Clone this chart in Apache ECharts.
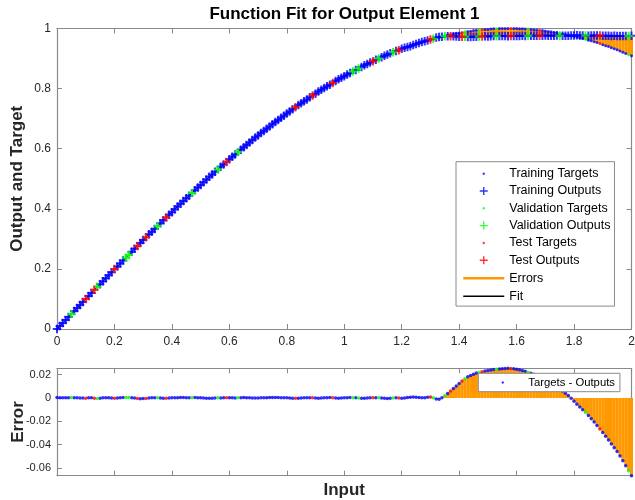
<!DOCTYPE html>
<html>
<head>
<meta charset="utf-8">
<script src="https://cdn.jsdelivr.net/npm/echarts@6/dist/echarts.min.js"></script>
<style>
  html, body { margin: 0; padding: 0; background: #fff; }
  #chart { width: 635px; height: 500px; }
</style>
</head>
<body>
<div id="chart"></div>
<script>
// Inputs 0:0.01:2
const inputs = [
  0.00,0.01,0.02,0.03,0.04,0.05,0.06,0.07,0.08,0.09,
  0.10,0.11,0.12,0.13,0.14,0.15,0.16,0.17,0.18,0.19,
  0.20,0.21,0.22,0.23,0.24,0.25,0.26,0.27,0.28,0.29,
  0.30,0.31,0.32,0.33,0.34,0.35,0.36,0.37,0.38,0.39,
  0.40,0.41,0.42,0.43,0.44,0.45,0.46,0.47,0.48,0.49,
  0.50,0.51,0.52,0.53,0.54,0.55,0.56,0.57,0.58,0.59,
  0.60,0.61,0.62,0.63,0.64,0.65,0.66,0.67,0.68,0.69,
  0.70,0.71,0.72,0.73,0.74,0.75,0.76,0.77,0.78,0.79,
  0.80,0.81,0.82,0.83,0.84,0.85,0.86,0.87,0.88,0.89,
  0.90,0.91,0.92,0.93,0.94,0.95,0.96,0.97,0.98,0.99,
  1.00,1.01,1.02,1.03,1.04,1.05,1.06,1.07,1.08,1.09,
  1.10,1.11,1.12,1.13,1.14,1.15,1.16,1.17,1.18,1.19,
  1.20,1.21,1.22,1.23,1.24,1.25,1.26,1.27,1.28,1.29,
  1.30,1.31,1.32,1.33,1.34,1.35,1.36,1.37,1.38,1.39,
  1.40,1.41,1.42,1.43,1.44,1.45,1.46,1.47,1.48,1.49,
  1.50,1.51,1.52,1.53,1.54,1.55,1.56,1.57,1.58,1.59,
  1.60,1.61,1.62,1.63,1.64,1.65,1.66,1.67,1.68,1.69,
  1.70,1.71,1.72,1.73,1.74,1.75,1.76,1.77,1.78,1.79,
  1.80,1.81,1.82,1.83,1.84,1.85,1.86,1.87,1.88,1.89,
  1.90,1.91,1.92,1.93,1.94,1.95,1.96,1.97,1.98,1.99,
  2.00
];

// Target values
const targets = [
  0.000,0.010,0.020,0.030,0.040,0.050,0.060,0.070,0.080,0.090,
  0.100,0.110,0.120,0.130,0.140,0.149,0.159,0.169,0.179,0.189,
  0.199,0.208,0.218,0.228,0.238,0.247,0.257,0.267,0.276,0.286,
  0.296,0.305,0.315,0.324,0.333,0.343,0.352,0.362,0.371,0.380,
  0.389,0.399,0.408,0.417,0.426,0.435,0.444,0.453,0.462,0.471,
  0.479,0.488,0.497,0.506,0.514,0.523,0.531,0.540,0.548,0.556,
  0.565,0.573,0.581,0.589,0.597,0.605,0.613,0.621,0.629,0.637,
  0.644,0.652,0.659,0.667,0.674,0.682,0.689,0.696,0.703,0.710,
  0.717,0.724,0.731,0.738,0.745,0.751,0.758,0.764,0.771,0.777,
  0.783,0.790,0.796,0.802,0.808,0.813,0.819,0.825,0.831,0.836,
  0.841,0.847,0.852,0.857,0.862,0.867,0.872,0.877,0.882,0.887,
  0.891,0.896,0.900,0.904,0.909,0.913,0.917,0.921,0.925,0.928,
  0.932,0.936,0.939,0.942,0.946,0.949,0.952,0.955,0.958,0.961,
  0.964,0.966,0.969,0.971,0.973,0.976,0.978,0.980,0.982,0.984,
  0.985,0.987,0.989,0.990,0.991,0.993,0.994,0.995,0.996,0.997,
  0.997,0.998,0.999,0.999,1.000,1.000,1.000,1.000,1.000,1.000,
  1.000,0.999,0.999,0.998,0.998,0.997,0.996,0.995,0.994,0.993,
  0.992,0.990,0.989,0.987,0.986,0.984,0.982,0.980,0.978,0.976,
  0.974,0.972,0.969,0.967,0.964,0.961,0.959,0.956,0.953,0.950,
  0.946,0.943,0.940,0.936,0.933,0.929,0.925,0.921,0.917,0.913,
  0.909
];

// Targets - Outputs
const errors = [
  0.0004,0.0003,0.0002,0.0002,0.0003,0.0004,0.0003,0.0001,-0.0001,0.0000,
  -0.0002,0.0001,0.0002,-0.0003,-0.0004,-0.0002,0.0001,0.0003,0.0002,0.0000,
  -0.0003,0.0000,0.0002,0.0004,0.0005,0.0004,0.0002,0.0000,-0.0004,-0.0006,
  -0.0005,-0.0004,-0.0001,0.0001,0.0003,0.0002,0.0000,-0.0002,-0.0003,-0.0001,
  0.0001,0.0002,0.0003,0.0004,0.0004,0.0003,0.0002,0.0003,0.0004,0.0003,
  0.0002,0.0000,-0.0002,-0.0003,-0.0002,0.0000,0.0001,0.0000,0.0002,0.0003,
  0.0003,0.0001,0.0000,0.0001,0.0003,0.0004,0.0003,0.0001,0.0000,-0.0001,
  0.0000,0.0001,0.0002,0.0003,0.0004,0.0004,0.0005,0.0004,0.0003,0.0002,
  0.0001,0.0000,-0.0002,-0.0003,-0.0002,0.0000,0.0002,0.0003,0.0002,0.0001,
  -0.0001,-0.0002,0.0000,0.0001,0.0003,0.0004,0.0002,0.0000,-0.0002,-0.0001,
  0.0001,0.0003,0.0004,0.0003,0.0001,-0.0001,-0.0002,-0.0003,-0.0001,0.0001,
  0.0002,0.0003,0.0002,0.0000,-0.0002,-0.0004,-0.0003,-0.0001,0.0001,0.0000,
  -0.0003,0.0000,0.0004,0.0007,0.0008,0.0007,0.0004,0.0002,0.0003,0.0006,
  0.0008,0.0002,-0.0008,-0.0010,0.0002,0.0020,0.0038,0.0060,0.0082,0.0103,
  0.0124,0.0146,0.0165,0.0181,0.0193,0.0204,0.0213,0.0219,0.0225,0.0230,
  0.0235,0.0239,0.0243,0.0246,0.0249,0.0251,0.0253,0.0254,0.0253,0.0251,
  0.0246,0.0241,0.0235,0.0228,0.0220,0.0212,0.0203,0.0193,0.0182,0.0170,
  0.0157,0.0143,0.0128,0.0112,0.0095,0.0078,0.0060,0.0041,0.0021,-0.0003,
  -0.0028,-0.0053,-0.0078,-0.0101,-0.0125,-0.0150,-0.0177,-0.0205,-0.0235,-0.0265,
  -0.0295,-0.0327,-0.0360,-0.0393,-0.0425,-0.0458,-0.0497,-0.0538,-0.0580,-0.0622,
  -0.0665
];

// Inputs held out for validation and for testing; the rest are training samples
const validationInputs = [0.05,0.14,0.24,0.25,0.35,0.47,0.56,0.63,1.03,1.05,1.12,1.17,1.31,1.35,1.42,1.47,1.53,1.64,1.75,1.84,1.99];
const testInputs = [0.10,0.13,0.20,0.28,0.31,0.38,0.59,0.83,0.89,0.96,1.10,1.19,1.30,1.37,1.41,1.48,1.58,1.68,1.89];

const xTicks = [0, 0.2, 0.4, 0.6, 0.8, 1, 1.2, 1.4, 1.6, 1.8, 2];

// ---- derived per-sample records ----
const outputs = targets.map((t, i) => +(t - errors[i]).toFixed(4));
const inSet = (arr, x) => arr.some(v => Math.abs(v - x) < 1e-9);
const subsetOf = x => inSet(validationInputs, x) ? 'val' : (inSet(testInputs, x) ? 'test' : 'train');
const pick = (kind, valueOf) => inputs
  .map((x, i) => [x, valueOf(i), subsetOf(x)])
  .filter(d => d[2] === kind)
  .map(d => [d[0], d[1]]);

const BLUE = '#0000ff', GREEN = '#00ff00', RED = '#ff0000', ORANGE = '#ff9900';
const AXIS = '#8a8a8a', TEXT = '#262626';
const FONT = '"Liberation Sans", Arial, Helvetica, sans-serif';
const PLUS = 'path://M5 0L5 10M0 5L10 5';

// legend icons (41 x 12 boxes)
const ICON_DOT = 'path://M0 0M41 12M19 6L20.5 4.5L22 6L20.5 7.5Z';
const ICON_PLUS = 'path://M0 0M41 12M20.5 2L20.5 10M16.5 6L24.5 6';
const ICON_LINE = 'path://M0 0M41 12M0 6L41 6';

const chart = echarts.init(document.getElementById('chart'), null, { renderer: 'canvas' });

function xAxisPair(gridIndex, withLabels) {
  const base = {
    type: 'value', gridIndex, min: 0, max: 2, interval: 0.2,
    axisLine: { show: true, onZero: false, lineStyle: { color: AXIS, width: 1.2 } },
    axisTick: { show: true, inside: true, length: 5, lineStyle: { color: AXIS, width: 1 } },
    splitLine: { show: false }
  };
  return [
    Object.assign({}, base, {
      position: 'bottom',
      axisLabel: withLabels ? { show: true, color: TEXT, fontFamily: FONT, fontSize: 12, margin: 7,
        formatter: v => String(xTicks.find(t => Math.abs(t - v) < 1e-9) ?? v) } : { show: false }
    }),
    Object.assign({}, base, { position: 'top', axisLabel: { show: false } })
  ];
}

function yAxisPair(gridIndex, extra, labelExtra) {
  const base = Object.assign({
    type: 'value', gridIndex,
    axisLine: { show: true, onZero: false, lineStyle: { color: AXIS, width: 1.2 } },
    axisTick: { show: true, inside: true, length: 5, lineStyle: { color: AXIS, width: 1 } },
    splitLine: { show: false }
  }, extra);
  return [
    Object.assign({}, base, {
      position: 'left',
      axisLabel: Object.assign({ show: true, color: TEXT, fontFamily: FONT, fontSize: 12, margin: 6 }, labelExtra)
    }),
    Object.assign({}, base, { position: 'right', name: '', axisLabel: { show: false } })
  ];
}

const errorBar = (name, xi, yi, yStart, yEnd) => ({
  name, type: 'custom', xAxisIndex: xi, yAxisIndex: yi, z: 1,
  itemStyle: { color: ORANGE },
  encode: { x: 0, y: [1, 2] },
  clip: false,
  renderItem(params, api) {
    const a = api.coord([api.value(0), api.value(1)]);
    const b = api.coord([api.value(0), api.value(2)]);
    return { type: 'line', shape: { x1: a[0], y1: a[1], x2: b[0], y2: b[1] },
             style: { stroke: ORANGE, lineWidth: 3 } };
  },
  data: inputs.map((x, i) => [x, yStart(i), yEnd(i)])
});

const dots = (name, data, color, xi, yi, size) => ({
  name, type: 'scatter', xAxisIndex: xi, yAxisIndex: yi, data, clip: false,
  symbol: 'circle', symbolSize: size, itemStyle: { color }, z: 3, silent: true
});
const pluses = (name, data, color) => ({
  name, type: 'scatter', xAxisIndex: 0, yAxisIndex: 0, data, clip: false,
  symbol: PLUS, symbolSize: 8.5,
  itemStyle: { color, borderColor: color, borderWidth: 2 }, z: 3, silent: true
});

const legendItem = (name, icon, color, width) => ({
  name, icon,
  itemStyle: { color: icon === ICON_DOT ? color : 'rgba(0,0,0,0)', borderColor: color, borderWidth: icon === ICON_DOT ? 0 : width }
});

const nameStyle = { fontFamily: FONT, fontSize: 17, fontWeight: 'bold', color: TEXT };

const option = {
  animation: false,
  backgroundColor: '#ffffff',
  title: {
    text: 'Function Fit for Output Element 1',
    left: 344.5, top: 6, padding: 0, textAlign: 'center',
    textStyle: { fontFamily: FONT, fontSize: 17, fontWeight: 'bold', color: '#000' }
  },
  grid: [
    { left: 57, top: 28.5, width: 574.5, height: 300.5, containLabel: false, outerBoundsMode: 'none' },
    { left: 57, top: 368.3, width: 574.5, height: 107.4, containLabel: false, outerBoundsMode: 'none' }
  ],
  xAxis: [
    ...xAxisPair(0, true),
    ...xAxisPair(1, false).map((a, k) => k === 0 ? Object.assign(a, {
      name: 'Input', nameLocation: 'middle', nameGap: 6, nameMoveOverlap: false,
      nameTextStyle: Object.assign({ verticalAlign: 'top' }, nameStyle)
    }) : a)
  ],
  yAxis: [
    ...yAxisPair(0, { min: 0, max: 1, interval: 0.2,
      name: 'Output and Target', nameLocation: 'middle', nameGap: 31.5, nameMoveOverlap: false,
      nameTextStyle: nameStyle }, {}),
    ...yAxisPair(1, { min: v => v.min, max: v => v.max, splitNumber: 5,
      name: 'Error', nameLocation: 'middle', nameGap: 30.5, nameMoveOverlap: false,
      nameTextStyle: nameStyle },
      { showMinLabel: false, showMaxLabel: false, fontSize: 11 })
  ],
  legend: [
    {
      orient: 'vertical', left: 456, top: 161.7,
      padding: [5.5, 4, 3, 6], itemGap: 4.1, itemWidth: 41, itemHeight: 12,
      backgroundColor: '#fff', borderColor: '#8a8a8a', borderWidth: 1, borderRadius: 0,
      selectedMode: false, symbolKeepAspect: true,
      textStyle: { fontFamily: FONT, fontSize: 12.5, color: '#000', lineHeight: 12 },
      data: [
        legendItem('Training Targets', ICON_DOT, BLUE, 0),
        legendItem('Training Outputs', ICON_PLUS, BLUE, 1.4),
        legendItem('Validation Targets', ICON_DOT, GREEN, 0),
        legendItem('Validation Outputs', ICON_PLUS, GREEN, 1.4),
        legendItem('Test Targets', ICON_DOT, RED, 0),
        legendItem('Test Outputs', ICON_PLUS, RED, 1.4),
        legendItem('Errors', ICON_LINE, ORANGE, 2.5),
        legendItem('Fit', ICON_LINE, '#000', 1.5)
      ]
    },
    {
      orient: 'vertical', left: 478.3, top: 373.3,
      padding: [3.2, 5, 3.2, 4], itemWidth: 41, itemHeight: 12,
      backgroundColor: '#fff', borderColor: '#8a8a8a', borderWidth: 1, borderRadius: 0,
      selectedMode: false, symbolKeepAspect: true,
      textStyle: { fontFamily: FONT, fontSize: 11.3, color: '#000', lineHeight: 12 },
      data: [ legendItem('Targets - Outputs', ICON_DOT, BLUE, 0) ]
    }
  ],
  series: [
    // top: fit panel
    errorBar('Errors', 0, 0, i => targets[i], i => outputs[i]),
    {
      name: 'Fit', type: 'line', xAxisIndex: 0, yAxisIndex: 0, z: 2,
      showSymbol: false, symbol: 'none', silent: true,
      lineStyle: { color: '#000', width: 1 }, itemStyle: { color: '#000' },
      data: inputs.map((x, i) => [x, outputs[i]])
    },
    dots('Training Targets', pick('train', i => targets[i]), BLUE, 0, 0, 3),
    pluses('Training Outputs', pick('train', i => outputs[i]), BLUE),
    dots('Validation Targets', pick('val', i => targets[i]), GREEN, 0, 0, 3),
    pluses('Validation Outputs', pick('val', i => outputs[i]), GREEN),
    dots('Test Targets', pick('test', i => targets[i]), RED, 0, 0, 3),
    pluses('Test Outputs', pick('test', i => outputs[i]), RED),
    // bottom: error panel
    errorBar('Error Bars', 2, 2, () => 0, i => errors[i]),
    dots('Targets - Outputs', pick('train', i => errors[i]), BLUE, 2, 2, 3.5),
    dots('Validation Errors', pick('val', i => errors[i]), GREEN, 2, 2, 3.5),
    dots('Test Errors', pick('test', i => errors[i]), RED, 2, 2, 3.5)
  ]
};

chart.setOption(option);
</script>
</body>
</html>
